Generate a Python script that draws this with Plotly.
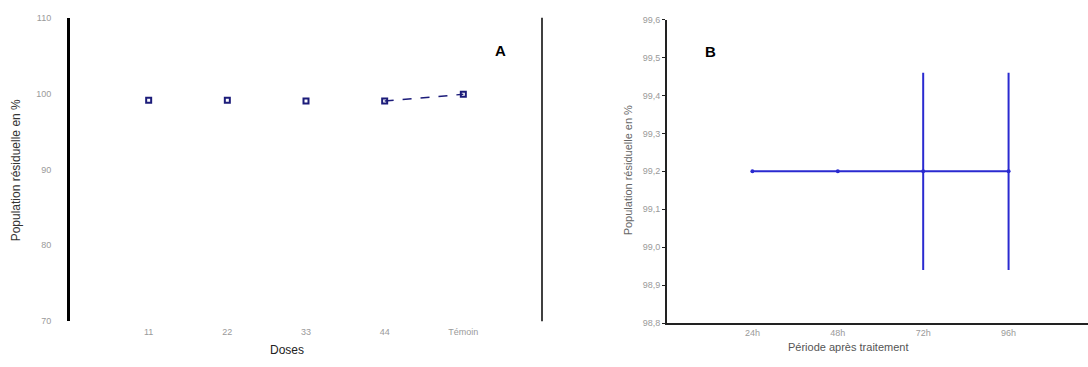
import plotly.graph_objects as go

# Panel A: residual population by dose
doses = ["11", "22", "33", "44", "Témoin"]
pop_dose = [99.1, 99.1, 99.0, 99.0, 99.9]
a_ticks = [70, 80, 90, 100, 110]

# Panel B: residual population by time after treatment
periods = ["24h", "48h", "72h", "96h"]
pop_period = [99.2, 99.2, 99.2, 99.2]
err_period = [0, 0, 0.26, 0.26]
b_ticks = [98.8, 98.9, 99.0, 99.1, 99.2, 99.3, 99.4, 99.5, 99.6]
b_ticktext = [f"{v:.1f}".replace(".", ",") for v in b_ticks]

NAVY = "#1c1c7a"
BLUE = "#2a2ad0"
TICKFONT = dict(family="Liberation Sans, Arial", size=9, color="#9a9a9a")

fig = go.Figure()

xa = list(range(len(doses)))
fig.add_trace(go.Scatter(
    x=xa, y=pop_dose, mode="markers",
    marker=dict(symbol="square-open", size=5, color=NAVY, line=dict(width=2, color=NAVY)),
    xaxis="x", yaxis="y", showlegend=False,
))
fig.add_trace(go.Scatter(
    x=xa[-2:], y=pop_dose[-2:], mode="lines",
    line=dict(color=NAVY, width=1.5, dash="dash"),
    xaxis="x", yaxis="y", showlegend=False,
))

xb = list(range(len(periods)))
fig.add_trace(go.Scatter(
    x=xb, y=pop_period, mode="lines+markers",
    line=dict(color=BLUE, width=2),
    marker=dict(symbol="circle", size=4, color=BLUE),
    error_y=dict(type="data", array=err_period, visible=True, color=BLUE, thickness=2, width=0),
    xaxis="x2", yaxis="y2", showlegend=False,
))

fig.update_layout(
    width=1088, height=367,
    margin=dict(l=0, r=0, t=0, b=0),
    paper_bgcolor="white", plot_bgcolor="white",
    font=dict(family="Liberation Sans, Arial"),
    xaxis=dict(
        domain=[70 / 1088, 542 / 1088], range=[-1, 5],
        tickmode="array", tickvals=xa, ticktext=doses,
        tickfont=TICKFONT, showgrid=False, zeroline=False, showline=False, ticks="",
        ticklabelstandoff=4, anchor="y",
    ),
    yaxis=dict(
        domain=[(367 - 325) / 367, (367 - 13) / 367], range=[70, 110],
        tickmode="array", tickvals=a_ticks, tickfont=TICKFONT,
        showgrid=False, zeroline=False, showline=True, linecolor="black", linewidth=3,
        ticks="", ticklabelstandoff=14, anchor="x",
    ),
    xaxis2=dict(
        domain=[667 / 1088, 1.0], range=[-1, 3.93],
        tickmode="array", tickvals=xb, ticktext=periods,
        tickfont=TICKFONT, showgrid=False, zeroline=False,
        showline=True, linecolor="#222", linewidth=2, ticks="",
        anchor="y2",
    ),
    yaxis2=dict(
        domain=[(367 - 327) / 367, (367 - 15) / 367], range=[98.8, 99.6],
        tickmode="array", tickvals=b_ticks, ticktext=b_ticktext, tickfont=TICKFONT,
        showgrid=False, zeroline=False, showline=True, linecolor="#222", linewidth=2,
        ticks="outside", ticklen=3, tickcolor="#222", anchor="x2",
    ),
    shapes=[
        # right frame of panel A
        dict(type="line", xref="paper", yref="paper",
             x0=542 / 1088, x1=542 / 1088, y0=(367 - 325) / 367, y1=(367 - 13) / 367,
             line=dict(color="black", width=1.5)),
    ],
    annotations=[
        dict(text="<b>A</b>", x=500 / 1088, y=(367 - 47) / 367, xref="paper", yref="paper",
             showarrow=False, font=dict(size=15, color="black"),
             xanchor="center", yanchor="middle"),
        dict(text="<b>B</b>", x=710 / 1088, y=(367 - 48) / 367, xref="paper", yref="paper",
             showarrow=False, font=dict(size=15, color="black"),
             xanchor="center", yanchor="middle"),
        dict(text="Doses", x=287 / 1088, y=(367 - 355) / 367, xref="paper", yref="paper",
             showarrow=False, font=dict(size=12, color="#222"),
             xanchor="center", yanchor="middle"),
        dict(text="Population résiduelle en %", x=16 / 1088, y=(367 - 170) / 367,
             xref="paper", yref="paper", textangle=-90, showarrow=False,
             font=dict(size=12, color="#333"), xanchor="center", yanchor="middle"),
        dict(text="Période après traitement", x=848 / 1088, y=(367 - 352) / 367,
             xref="paper", yref="paper", showarrow=False,
             font=dict(size=11, color="#555"), xanchor="center", yanchor="middle"),
        dict(text="Population résiduelle en %", x=628 / 1088, y=(367 - 170) / 367,
             xref="paper", yref="paper", textangle=-90, showarrow=False,
             font=dict(size=11, color="#666"), xanchor="center", yanchor="middle"),
    ],
)

fig.write_html("out.html")
